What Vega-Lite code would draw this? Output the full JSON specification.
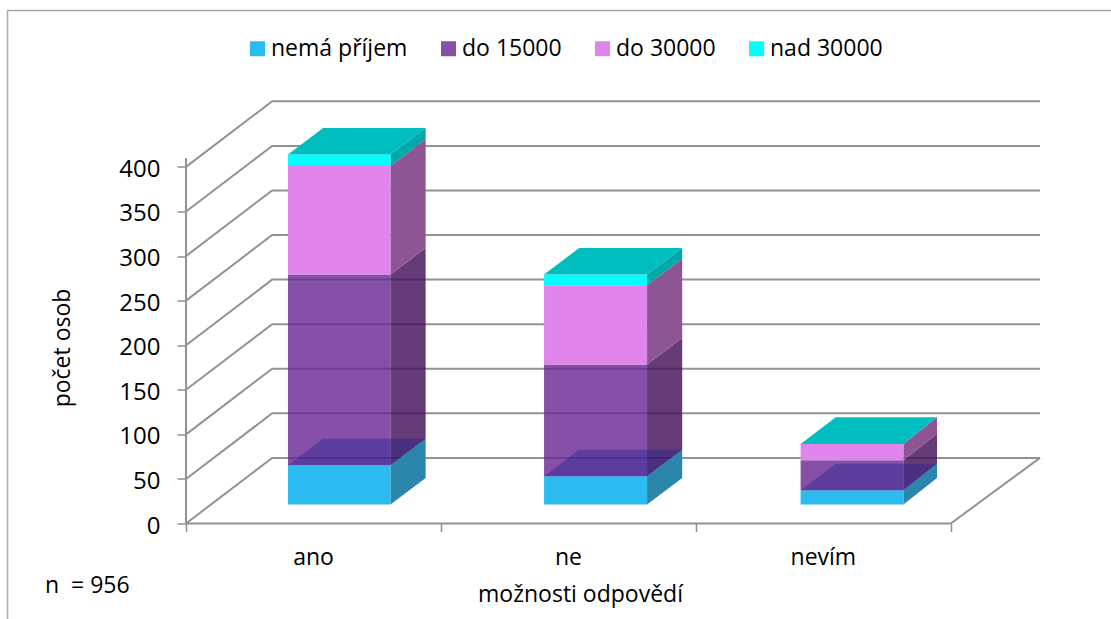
{
"$schema":"https://vega.github.io/schema/vega-lite/v6.json",
"width":854,"height":423,
"autosize":{"type":"none"},
"padding":{"left":186,"top":100.5,"right":71,"bottom":95.5},
"background":"white",
"config":{"view":{"stroke":null},"font":"Open Sans","axis":{"labelFont":"Open Sans","titleFont":"Open Sans"},"legend":{"labelFont":"Open Sans"}},
"datasets":{
"segmenty":[
{"kategorie":"ano","prijem":"nemá příjem","x0":0.4,"x1":0.802,"od":0,"do":44},
{"kategorie":"ano","prijem":"do 15000","x0":0.4,"x1":0.802,"od":44,"do":258},
{"kategorie":"ano","prijem":"do 30000","x0":0.4,"x1":0.802,"od":258,"do":379.8},
{"kategorie":"ano","prijem":"nad 30000","x0":0.4,"x1":0.802,"od":379.8,"do":392.6},
{"kategorie":"ne","prijem":"nemá příjem","x0":1.4045,"x1":1.8085,"od":0,"do":31.7},
{"kategorie":"ne","prijem":"do 15000","x0":1.4045,"x1":1.8085,"od":31.7,"do":157},
{"kategorie":"ne","prijem":"do 30000","x0":1.4045,"x1":1.8085,"od":157,"do":246},
{"kategorie":"ne","prijem":"nad 30000","x0":1.4045,"x1":1.8085,"od":246,"do":258},
{"kategorie":"nevím","prijem":"nemá příjem","x0":2.411,"x1":2.814,"od":0,"do":16},
{"kategorie":"nevím","prijem":"do 15000","x0":2.411,"x1":2.814,"od":16,"do":49.7},
{"kategorie":"nevím","prijem":"do 30000","x0":2.411,"x1":2.814,"od":49.7,"do":68}
],
"boky":[
{"kategorie":"ano","prijem":"nemá příjem","x":0.802,"od":21.3,"do":65.3},{"kategorie":"ano","prijem":"nemá příjem","x":0.94,"od":51.1,"do":95.1},
{"kategorie":"ano","prijem":"do 15000","x":0.802,"od":65.3,"do":279.3},{"kategorie":"ano","prijem":"do 15000","x":0.94,"od":95.1,"do":309.1},
{"kategorie":"ano","prijem":"do 30000","x":0.802,"od":279.3,"do":401.1},{"kategorie":"ano","prijem":"do 30000","x":0.94,"od":309.1,"do":430.9},
{"kategorie":"ano","prijem":"nad 30000","x":0.802,"od":401.1,"do":413.9},{"kategorie":"ano","prijem":"nad 30000","x":0.94,"od":430.9,"do":443.7},
{"kategorie":"ne","prijem":"nemá příjem","x":1.8085,"od":21.3,"do":53},{"kategorie":"ne","prijem":"nemá příjem","x":1.9465,"od":51.1,"do":82.8},
{"kategorie":"ne","prijem":"do 15000","x":1.8085,"od":53,"do":178.3},{"kategorie":"ne","prijem":"do 15000","x":1.9465,"od":82.8,"do":208.1},
{"kategorie":"ne","prijem":"do 30000","x":1.8085,"od":178.3,"do":267.3},{"kategorie":"ne","prijem":"do 30000","x":1.9465,"od":208.1,"do":297.1},
{"kategorie":"ne","prijem":"nad 30000","x":1.8085,"od":267.3,"do":279.3},{"kategorie":"ne","prijem":"nad 30000","x":1.9465,"od":297.1,"do":309.1},
{"kategorie":"nevím","prijem":"nemá příjem","x":2.814,"od":21.3,"do":37.3},{"kategorie":"nevím","prijem":"nemá příjem","x":2.946,"od":51.1,"do":67.1},
{"kategorie":"nevím","prijem":"do 15000","x":2.814,"od":37.3,"do":71},{"kategorie":"nevím","prijem":"do 15000","x":2.946,"od":67.1,"do":100.8},
{"kategorie":"nevím","prijem":"do 30000","x":2.814,"od":71,"do":89.3},{"kategorie":"nevím","prijem":"do 30000","x":2.946,"od":100.8,"do":119.1}
],
"vrchy":[
{"kategorie":"ano","x":0.4,"od":413.9,"do":413.9},{"kategorie":"ano","x":0.538,"od":413.9,"do":443.7},{"kategorie":"ano","x":0.802,"od":413.9,"do":443.7},{"kategorie":"ano","x":0.94,"od":443.7,"do":443.7},
{"kategorie":"ne","x":1.4045,"od":279.3,"do":279.3},{"kategorie":"ne","x":1.5425,"od":279.3,"do":309.1},{"kategorie":"ne","x":1.8085,"od":279.3,"do":309.1},{"kategorie":"ne","x":1.9465,"od":309.1,"do":309.1},
{"kategorie":"nevím","x":2.411,"od":89.3,"do":89.3},{"kategorie":"nevím","x":2.549,"od":89.3,"do":119.1},{"kategorie":"nevím","x":2.814,"od":89.3,"do":119.1},{"kategorie":"nevím","x":2.946,"od":119.1,"do":119.1}
],
"dna":[
{"kategorie":"ano","x":0.4,"od":65.3,"do":65.3},{"kategorie":"ano","x":0.538,"od":65.3,"do":95.1},{"kategorie":"ano","x":0.802,"od":65.3,"do":95.1},{"kategorie":"ano","x":0.94,"od":95.1,"do":95.1},
{"kategorie":"ne","x":1.4045,"od":53,"do":53},{"kategorie":"ne","x":1.5425,"od":53,"do":82.8},{"kategorie":"ne","x":1.8085,"od":53,"do":82.8},{"kategorie":"ne","x":1.9465,"od":82.8,"do":82.8},
{"kategorie":"nevím","x":2.411,"od":37.3,"do":37.3},{"kategorie":"nevím","x":2.549,"od":37.3,"do":67.1},{"kategorie":"nevím","x":2.814,"od":37.3,"do":67.1},{"kategorie":"nevím","x":2.946,"od":67.1,"do":67.1}
],
"mrizka":[
{"cara":"0","x":0,"y":0},{"cara":"0","x":0.338,"y":73.6},{"cara":"0","x":3.35,"y":73.6},
{"cara":"50","x":0,"y":50},{"cara":"50","x":0.338,"y":123.6},{"cara":"50","x":3.35,"y":123.6},
{"cara":"100","x":0,"y":100},{"cara":"100","x":0.338,"y":173.6},{"cara":"100","x":3.35,"y":173.6},
{"cara":"150","x":0,"y":150},{"cara":"150","x":0.338,"y":223.6},{"cara":"150","x":3.35,"y":223.6},
{"cara":"200","x":0,"y":200},{"cara":"200","x":0.338,"y":273.6},{"cara":"200","x":3.35,"y":273.6},
{"cara":"250","x":0,"y":250},{"cara":"250","x":0.338,"y":323.6},{"cara":"250","x":3.35,"y":323.6},
{"cara":"300","x":0,"y":300},{"cara":"300","x":0.338,"y":373.6},{"cara":"300","x":3.35,"y":373.6},
{"cara":"350","x":0,"y":350},{"cara":"350","x":0.338,"y":423.6},{"cara":"350","x":3.35,"y":423.6},
{"cara":"400","x":0,"y":400},{"cara":"400","x":0.338,"y":473.6},{"cara":"400","x":3.35,"y":473.6},
{"cara":"predek","x":0,"y":0},{"cara":"predek","x":3,"y":0},
{"cara":"pravo","x":3,"y":0},{"cara":"pravo","x":3.35,"y":73.6},
{"cara":"osa","x":0,"y":0,"p":1},{"cara":"osa","x":0,"y":410,"p":2}
]
},
"layer":[
{"data":{"values":[{"x":-0.7,"y":-108,"p":1},{"x":-0.7,"y":575.5,"p":2},{"x":3.65,"y":575.5,"p":3}]},
 "mark":{"type":"line","stroke":"#ABABAB","strokeWidth":1.5,"clip":false},
 "encoding":{"x":{"field":"x","type":"quantitative","scale":{"domain":[0,3.35],"nice":false,"zero":false},
   "axis":{"values":[0,1,2,3],"labelExpr":"['ano','ne','nevím',''][datum.value]","labelOffset":127,"labelFlush":false,"labelFontSize":23,"labelColor":"#000","labelPadding":15,"tickSize":8,"tickColor":"#8F8F8F","tickWidth":1.5,"domain":false,"grid":false,"title":"možnosti odpovědí","titleFontSize":23,"titleFontWeight":"normal","titleColor":"#000","titleX":394,"titleY":60,"titleAnchor":"middle"}},
  "y":{"field":"y","type":"quantitative","scale":{"domain":[0,474.5],"nice":false,"zero":false},
   "axis":{"values":[0,50,100,150,200,250,300,350,400],"labelFlush":false,"labelOffset":2.5,"labelFontSize":24,"labelColor":"#000","labelPadding":17,"tickSize":9,"tickColor":"#8F8F8F","tickWidth":1.5,"domain":false,"grid":false,"title":"počet osob","titleFontSize":23,"titleFontWeight":"normal","titleColor":"#000","titleX":-112,"titleY":247,"titleAnchor":"middle"}},
  "order":{"field":"p","type":"quantitative"}}},
{"data":{"name":"mrizka"},
 "mark":{"type":"line","stroke":"#929292","strokeWidth":2,"clip":false},
 "encoding":{"x":{"field":"x","type":"quantitative","scale":{"domain":[0,3.35]}},"y":{"field":"y","type":"quantitative","scale":{"domain":[0,474.5]}},"detail":{"field":"cara"}}},
{"data":{"name":"boky"},
 "mark":{"type":"area","clip":false},
 "encoding":{"x":{"field":"x","type":"quantitative","scale":{"domain":[0,3.35]}},"y":{"field":"od","type":"quantitative","scale":{"domain":[0,474.5]}},"y2":{"field":"do"},"detail":{"field":"kategorie"},
  "fill":{"field":"prijem","type":"nominal","legend":null,"scale":{"domain":["nemá příjem","do 15000","do 30000","nad 30000"],"range":["#2A86AB","#44115A","#8E5594","#00A8AA"]}},
  "opacity":{"field":"prijem","type":"nominal","legend":null,"scale":{"type":"ordinal","domain":["nemá příjem","do 15000","do 30000","nad 30000"],"range":[1,0.82,1,1]}}}},
{"data":{"name":"segmenty"},
 "mark":{"type":"rect","yOffset":-19,"y2Offset":-19,"clip":false},
 "encoding":{"x":{"field":"x0","type":"quantitative","scale":{"domain":[0,3.35]}},"x2":{"field":"x1"},"y":{"field":"od","type":"quantitative","scale":{"domain":[0,474.5]}},"y2":{"field":"do"},
  "fill":{"field":"prijem","type":"nominal","scale":{"domain":["nemá příjem","do 15000","do 30000","nad 30000"],"range":["#2CBBF0","#6B2995","#DF85EC","#00FFFF"]},
   "legend":{"title":null,"orient":"none","legendX":60,"legendY":-63.5,"direction":"horizontal","columns":4,"symbolType":"square","symbolSize":225,"symbolStrokeWidth":0,"labelFontSize":23,"labelColor":"#000","columnPadding":29,"labelOffset":2,"symbolOffset":0}},
  "opacity":{"field":"prijem","type":"nominal","scale":{"type":"ordinal","domain":["nemá příjem","do 15000","do 30000","nad 30000"],"range":[1,0.82,1,1]}}}},
{"data":{"name":"dna"},
 "mark":{"type":"area","fill":"#1E1E8C","opacity":0.4,"clip":false},
 "encoding":{"x":{"field":"x","type":"quantitative","scale":{"domain":[0,3.35]}},"y":{"field":"od","type":"quantitative","scale":{"domain":[0,474.5]}},"y2":{"field":"do"},"detail":{"field":"kategorie"}}},
{"data":{"name":"vrchy"},
 "mark":{"type":"area","fill":"#00BDC0","clip":false},
 "encoding":{"x":{"field":"x","type":"quantitative","scale":{"domain":[0,3.35]}},"y":{"field":"od","type":"quantitative","scale":{"domain":[0,474.5]}},"y2":{"field":"do"},"detail":{"field":"kategorie"}}},
{"data":{"values":[{"popis":"n\u00a0\u00a0=\u00a0956","x":-0.553,"y":-70}]},
 "mark":{"type":"text","align":"left","baseline":"middle","fontSize":23,"color":"#000","font":"Open Sans","clip":false},
 "encoding":{"x":{"field":"x","type":"quantitative","scale":{"domain":[0,3.35]}},"y":{"field":"y","type":"quantitative","scale":{"domain":[0,474.5]}},"text":{"field":"popis"}}}
],
"resolve":{"scale":{"fill":"independent","opacity":"independent"}}
}
